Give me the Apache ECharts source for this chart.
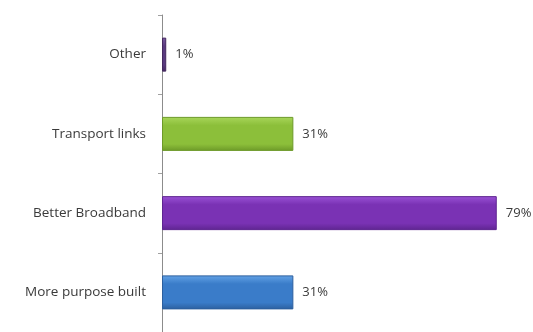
<!DOCTYPE html>
<html><head><meta charset="utf-8">
<script src="https://cdn.jsdelivr.net/npm/echarts@6/dist/echarts.min.js"></script>
<style>html,body{margin:0;padding:0;background:#fff}#c{width:533px;height:332px}</style>
</head><body><div id="c"></div>
<script>
const categories = ['More purpose built', 'Better Broadband', 'Transport links', 'Other'];
const values = [31, 79, 31, 1];
const topColors = ['#63a3e6', '#9a52d6', '#a8d65a', '#7a5aa0'];
const midColors = ['#3a7cc9', '#7a32b4', '#8cbf3a', '#5a3a80'];
const botColors = ['#2c5f9e', '#5e2590', '#6d9a28', '#44285f'];

const chart = echarts.init(document.getElementById('c'));
chart.setOption({
  animation: false,
  grid: { left: 162, right: 32, top: 15, bottom: -7 },
  xAxis: { type: 'value', min: 0, max: 80, show: false },
  yAxis: {
    type: 'category', data: categories,
    axisLine: { lineStyle: { color: '#8c8c8c', width: 1 } },
    axisTick: { show: true, length: 4, lineStyle: { color: '#a0a0a0' } },
    axisLabel: { color: '#3a3a3a', fontSize: 13.5, fontFamily: 'Open Sans', margin: 16 }
  },
  series: [{
    type: 'bar',
    barWidth: 34,
    data: values.map((v, i) => ({
      value: v,
      itemStyle: {
        color: new echarts.graphic.LinearGradient(0, 0, 0, 1, [
          { offset: 0, color: topColors[i] },
          { offset: 0.25, color: midColors[i] },
          { offset: 0.8, color: midColors[i] },
          { offset: 1, color: botColors[i] }
        ]),
        borderColor: botColors[i], borderWidth: 1
      }
    })),
    label: { show: true, position: 'right', distance: 9, formatter: '{c}%', color: '#3a3a3a', fontSize: 13, fontFamily: 'Open Sans' }
  }]
});
</script></body></html>
